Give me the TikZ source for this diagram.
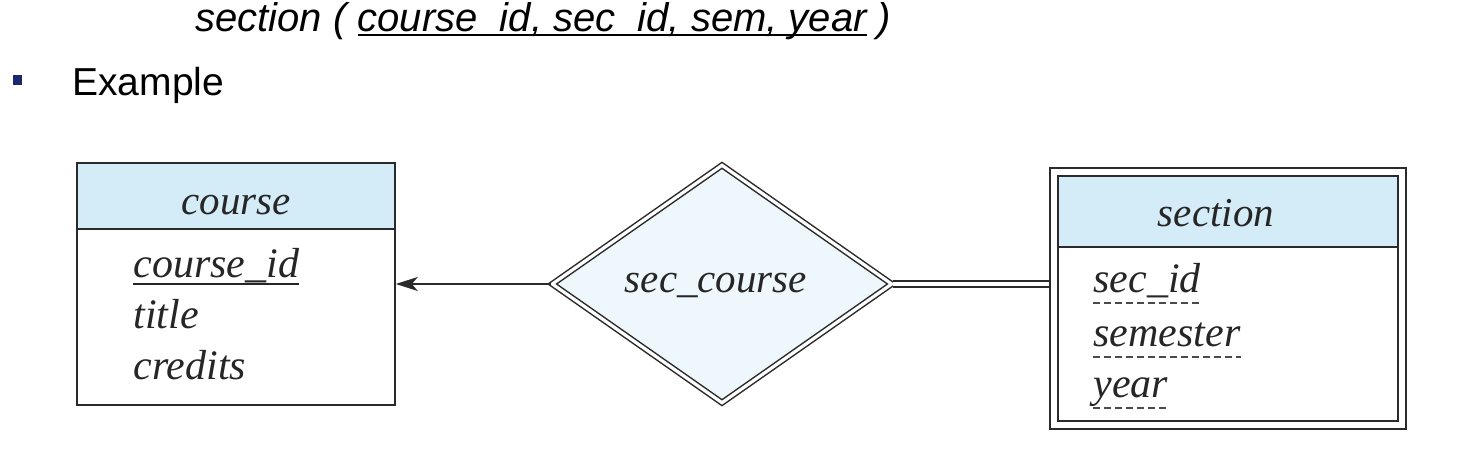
\documentclass[tikz,border=0pt]{standalone}
\usepackage{fontspec}
\setmainfont{Liberation Serif}
\newfontfamily\arialfont{Liberation Sans}
\usetikzlibrary{shapes.geometric,arrows.meta,fit,calc}
\definecolor{hdr}{HTML}{D4ECF7}
\definecolor{relfill}{HTML}{EEF7FB}
\definecolor{ln}{HTML}{2A2A2A}
\definecolor{bulletcol}{HTML}{1B2A6B}
\newcommand\myul[3]{\setbox0\hbox{#3}\rlap{\rule[-#1]{\wd0}{#2}}\box0\relax}
\begin{document}
\begin{tikzpicture}[x=0.5pt,y=-0.5pt,
  entity/.style={draw=ln, line width=0.8pt, inner sep=0pt},
  hdrtext/.style={font=\fontsize{20.5}{24}\selectfont\itshape, inner sep=0pt, anchor=base, text=black!85},
  attr/.style={font=\fontsize{21}{24}\selectfont\itshape, inner sep=0pt, anchor=base west, text=black!85},
  slide/.style={font=\arialfont\fontsize{19.5}{23}\selectfont, inner sep=0pt, anchor=base west, text=black},
  dul/.style={draw=ln!85, line width=0.8pt, dash pattern=on 3.5pt off 2pt}
]
\useasboundingbox (0,0) rectangle (1484,474);

% slide text
\node[slide, font=\arialfont\itshape\fontsize{20}{23}\selectfont] (title) at (195,32)
  {section ( \myul{1.8pt}{0.7pt}{course\_id, sec\_id, sem, year} )};
\node[fill=bulletcol, minimum width=4.5pt, minimum height=5pt, inner sep=0pt] (bul) at (17,80) {};
\node[slide] (example) at (72,96) {Example};

% course entity
\node[entity, minimum width=159pt, minimum height=121pt,
  path picture={\fill[hdr] (path picture bounding box.north west) rectangle ([yshift=-33.5pt]path picture bounding box.north east);}]
  (course) at (236,284) {};
\draw[ln, line width=0.8pt] ([yshift=-33.5pt]course.north west) -- ([yshift=-33.5pt]course.north east);
\node[hdrtext] (coursehdr) at (236,215) {course};
\node[attr] (cid) at (133,278) {\myul{3.5pt}{0.8pt}{course\_id}};
\node[attr] (ctitle) at (133,329) {title};
\node[attr] (ccred) at (133,380) {credits};

% section weak entity
\node[entity, minimum width=170pt, minimum height=122.5pt,
  path picture={\fill[hdr] (path picture bounding box.north west) rectangle ([yshift=-36pt]path picture bounding box.north east);}]
  (section) at (1228,298.5) {};
\draw[ln, line width=0.8pt] ([yshift=-36pt]section.north west) -- ([yshift=-36pt]section.north east);
\node[draw=ln, line width=0.8pt, fit=(section), inner sep=3.5pt] (secout) {};
\node[hdrtext] (sechdr) at (1216,227) {section};
\node[attr] (sid) at (1093,293) {sec\_id};
\node[attr] (ssem) at (1093,347) {semester};
\node[attr] (syear) at (1093,398) {year};
\foreach \n in {sid,ssem,syear}
  \draw[dul] ([yshift=-5pt]\n.base west) -- ([yshift=-5pt]\n.base east);

% relationship
\node[diamond, draw=ln, fill=relfill, line width=0.75pt, double=white, double distance=1.6pt,
  minimum width=170pt, minimum height=119pt, inner sep=0pt] (rel) at (722,284) {};
\node[hdrtext] (reltext) at (716,293) {sec\_course};

% connectors
\draw[ln, line width=0.6pt, -{Stealth[length=11pt,width=7pt,inset=3pt]}] (rel.west) -- (course.east);
\draw[ln, line width=0.7pt, double=white, double distance=2.4pt] (rel.east) -- (rel.east -| secout.west);
\end{tikzpicture}
\end{document}
